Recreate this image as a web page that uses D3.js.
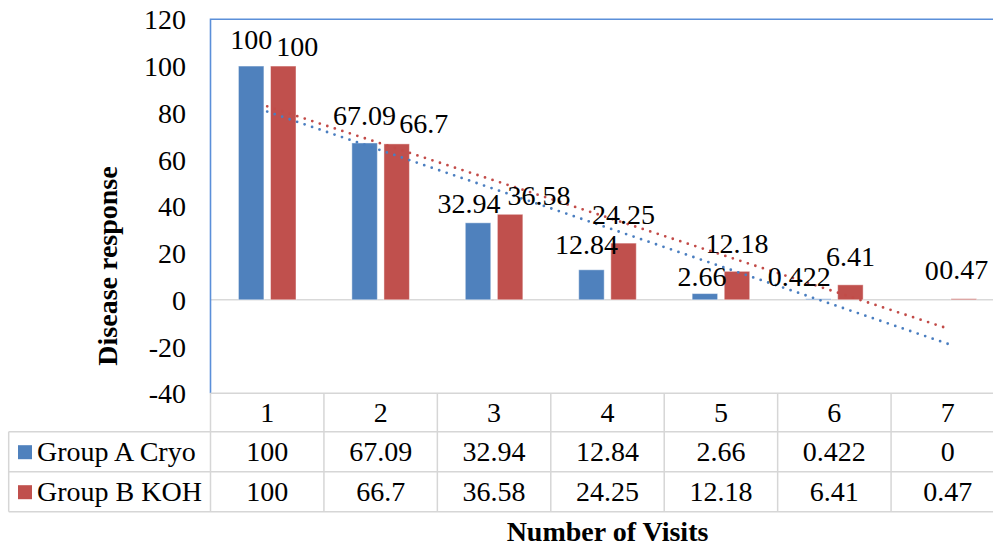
<!DOCTYPE html>
<html><head><meta charset="utf-8"><script src="https://cdn.jsdelivr.net/npm/d3@7/dist/d3.min.js"></script></head>
<body style="margin:0">
<svg id="chart" width="993" height="546"></svg>
<script>
// Visits and responses for both treatment groups
const visits = ["1", "2", "3", "4", "5", "6", "7"];
const seriesNames = ["Group A Cryo", "Group B KOH"];
const groupA = [100, 67.09, 32.94, 12.84, 2.66, 0.422, 0];
const groupB = [100, 66.7, 36.58, 24.25, 12.18, 6.41, 0.47];
const yTicks = [-40, -20, 0, 20, 40, 60, 80, 100, 120];

// Hand-placed offsets of the value labels (dx, dy in px)
const labelNudgeA = [[0, 1], [0, 0], [-9, 8], [-5, 2], [-3, 10], [-19, 5], [0, -2]];
const labelNudgeB = [[14, 8], [27, 7], [29, 9], [0, -1], [0, 0], [0, -1], [0, -2]];

const colors = ["#4f81bd", "#c0504d"];
const trendColors = ["#4a7ec0", "#c24b48"];
const values = [groupA, groupB];
const nudges = [labelNudgeA, labelNudgeB];

const F = '"Liberation Serif"';
const FS = 28;
const REG = 500;
const W = 993;
const svg = d3.select("#chart");

const plot = { left: 210.5, right: 1004.5, top: 19.3, bottom: 393.3 };
const edge = Math.min(plot.right, W);
const rows = [393.3, 431.7, 471.7, 511.7];
const tableLeft = 8.7;

const x0 = d3.scaleBand().domain(visits).range([plot.left, plot.right]).padding(0);
const half = x0.bandwidth() * 0.2537;
const x1 = d3.scaleBand().domain(seriesNames).range([-half, half]).paddingInner(0.206);
const y = d3.scaleLinear().domain([-40, 120]).range([plot.bottom, plot.top]);
const cx = v => x0(v) + x0.bandwidth() / 2;

// Zero line
svg.append("line")
  .attr("x1", plot.left).attr("x2", edge)
  .attr("y1", y(0)).attr("y2", y(0))
  .attr("stroke", "#d9d9d9").attr("stroke-width", 1.5);

// Bars
seriesNames.forEach((name, s) => {
  svg.append("g").selectAll("rect")
    .data(values[s])
    .join("rect")
    .attr("x", (d, i) => cx(visits[i]) + x1(name))
    .attr("width", x1.bandwidth())
    .attr("y", d => y(Math.max(0, d)))
    .attr("height", d => Math.abs(y(d) - y(0)))
    .attr("fill", colors[s])
    .attr("stroke", "#ffffff").attr("stroke-opacity", 0.45).attr("stroke-width", 1);
});

// Linear trend lines (least squares over the visit number)
seriesNames.forEach((name, s) => {
  const pts = values[s].map((v, i) => [i + 1, v]);
  const n = pts.length;
  const mx = d3.mean(pts, p => p[0]);
  const my = d3.mean(pts, p => p[1]);
  const slope = d3.sum(pts, p => (p[0] - mx) * (p[1] - my)) / d3.sum(pts, p => (p[0] - mx) ** 2);
  const icpt = my - slope * mx;
  const line = d3.line().x(p => cx(visits[p - 1])).y(p => y(icpt + slope * p));
  svg.append("path")
    .datum([1, n])
    .attr("d", line)
    .attr("fill", "none")
    .attr("stroke", trendColors[s])
    .attr("stroke-width", 2.8)
    .attr("stroke-linecap", "round")
    .attr("stroke-dasharray", "0 7.9");
});

// Plot border (left and top)
svg.append("path")
  .attr("d", `M${plot.left},${plot.bottom}V${plot.top}H${edge}`)
  .attr("fill", "none").attr("stroke", "#5b8fd9").attr("stroke-width", 1.6);

// Data table grid
const grid = svg.append("g").attr("stroke", "#d6d6d6").attr("stroke-width", 1.5);
grid.append("line").attr("x1", plot.left).attr("x2", edge).attr("y1", rows[0]).attr("y2", rows[0]);
rows.slice(1).forEach(r => {
  grid.append("line").attr("x1", tableLeft).attr("x2", edge).attr("y1", r).attr("y2", r);
});
grid.append("line").attr("x1", tableLeft).attr("x2", tableLeft).attr("y1", rows[1]).attr("y2", rows[3]);
visits.forEach(v => {
  grid.append("line").attr("x1", x0(v)).attr("x2", x0(v)).attr("y1", rows[0]).attr("y2", rows[3]);
});

// Y axis labels
const yg = svg.append("g").attr("transform", "translate(186,0)")
  .call(d3.axisLeft(y).tickValues(yTicks).tickSize(0).tickPadding(0).tickFormat(d => String(d)));
yg.select(".domain").remove();
yg.attr("font-family", null).attr("font-size", null);
yg.selectAll("text").attr("dy", "0.34em").style("font-family", F).attr("font-size", FS).attr("font-weight", REG);

// Value labels
seriesNames.forEach((name, s) => {
  values[s].forEach((d, i) => {
    svg.append("text")
      .attr("x", cx(visits[i]) + x1(name) + x1.bandwidth() / 2 + nudges[s][i][0])
      .attr("y", y(Math.max(0, d)) - 18 + nudges[s][i][1])
      .attr("text-anchor", "middle")
      .style("font-family", F).attr("font-size", FS).attr("font-weight", REG)
      .text(String(d));
  });
});

// Header row: visit numbers
visits.forEach(v => {
  svg.append("text")
    .attr("x", cx(v)).attr("y", (rows[0] + rows[1]) / 2 + 9.3)
    .attr("text-anchor", "middle")
    .style("font-family", F).attr("font-size", FS).attr("font-weight", REG)
    .text(v);
});

// Series rows with legend keys
seriesNames.forEach((name, s) => {
  const mid = (rows[s + 1] + rows[s + 2]) / 2;
  svg.append("rect").attr("x", 18).attr("y", mid - 6.5).attr("width", 14).attr("height", 14).attr("fill", colors[s]);
  svg.append("text").attr("x", 37).attr("y", mid + 9.3)
    .style("font-family", F).attr("font-size", FS).attr("font-weight", REG).text(name);
  values[s].forEach((d, i) => {
    svg.append("text")
      .attr("x", cx(visits[i])).attr("y", mid + 9.3)
      .attr("text-anchor", "middle")
      .style("font-family", F).attr("font-size", FS).attr("font-weight", REG)
      .text(String(d));
  });
});

// Axis titles
svg.append("text")
  .attr("transform", "translate(117,266) rotate(-90)")
  .attr("text-anchor", "middle")
  .style("font-family", F).attr("font-size", FS).attr("font-weight", "bold")
  .text("Disease response");
svg.append("text")
  .attr("x", (plot.left + plot.right) / 2).attr("y", 541)
  .attr("text-anchor", "middle")
  .style("font-family", F).attr("font-size", FS).attr("font-weight", "bold")
  .text("Number of Visits");
</script>
</body>
</html>
